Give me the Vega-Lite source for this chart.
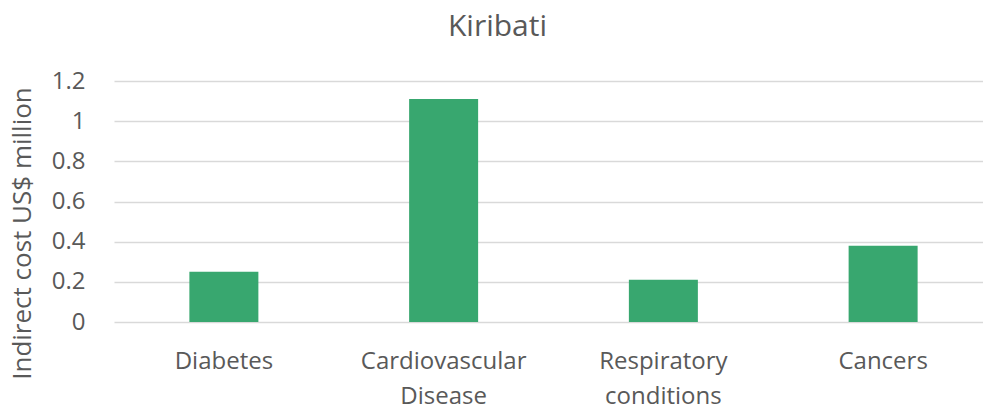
{
  "$schema": "https://vega.github.io/schema/vega-lite/v6.json",
  "width": 879,
  "height": 241,
  "autosize": {"type": "none"},
  "padding": {"left": 114, "right": -10, "top": 81, "bottom": 88},
  "background": "white",
  "title": {"text": "Kiribati", "fontSize": 30, "font": "Open Sans", "fontWeight": "normal", "color": "#595959", "offset": 27, "anchor": "middle", "frame": "group", "dx": -56},
  "data": {"values": [
    {"category": "Diabetes", "value": 0.25},
    {"category": "Cardiovascular Disease", "value": 1.11},
    {"category": "Respiratory conditions", "value": 0.21},
    {"category": "Cancers", "value": 0.38}
  ]},
  "mark": {"type": "bar", "color": "#38a76f"},
  "encoding": {
    "x": {"field": "category", "type": "nominal", "sort": null,
      "scale": {"paddingInner": 0.686, "paddingOuter": 0.343},
      "axis": {"title": null, "labelAngle": 0, "labelFontSize": 24, "labelFont": "Open Sans", "labelColor": "#595959",
        "labelExpr": "split(datum.label, ' ')", "labelLineHeight": 35, "ticks": false, "domain": false, "labelPadding": 27}},
    "y": {"field": "value", "type": "quantitative",
      "scale": {"domain": [0, 1.2]},
      "axis": {"title": "Indirect cost US$ million", "titleFontSize": 26, "titleFont": "Open Sans", "titleFontWeight": "normal", "titleColor": "#595959",
        "titleY": 152,
        "values": [0, 0.2, 0.4, 0.6, 0.8, 1, 1.2], "format": "~g",
        "labelFontSize": 24, "labelFont": "Open Sans", "labelColor": "#595959", "labelPadding": 29,
        "ticks": false, "domain": false, "gridColor": "#d9d9d9", "gridWidth": 1.3, "titlePadding": 16}}
  },
  "config": {"view": {"stroke": null}}
}
